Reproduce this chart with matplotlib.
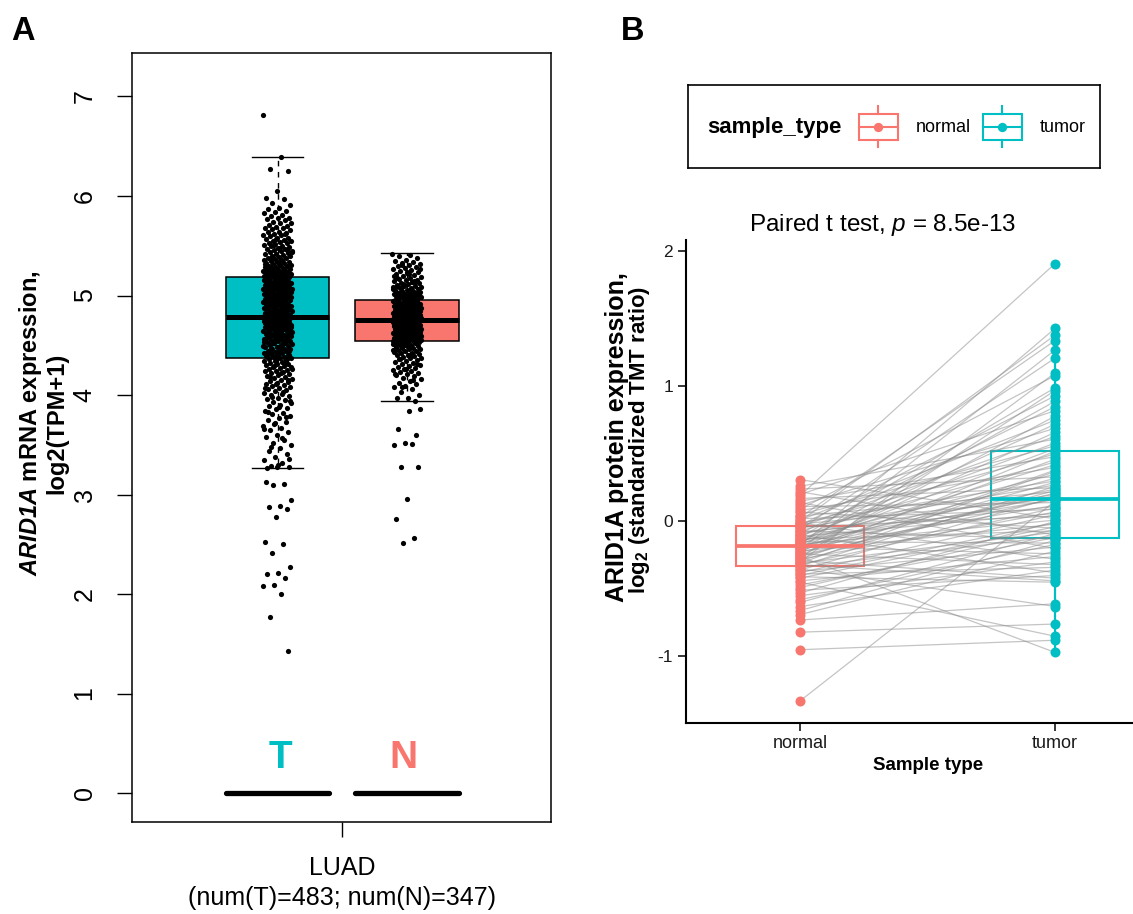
import numpy as np
import matplotlib
matplotlib.use("Agg")
import matplotlib.pyplot as plt
from matplotlib.patches import Rectangle

plt.rcParams['font.family'] = ['Liberation Sans', 'DejaVu Sans']
plt.rcParams['mathtext.fontset'] = 'custom'
plt.rcParams['mathtext.rm'] = 'Liberation Sans'
plt.rcParams['mathtext.it'] = 'Liberation Sans:italic'
plt.rcParams['mathtext.bf'] = 'Liberation Sans:bold'
plt.rcParams['mathtext.bfit'] = 'Liberation Sans:italic:bold'

W, H = 1133, 914
TEAL = '#00BFC4'
SALMON = '#F8766D'

# === PANEL A DATA (LUAD, log2(TPM+1)) ===
a_groups = ['T', 'N']
a_q1 = [4.37, 4.54]
a_med = [4.78, 4.75]
a_q3 = [5.19, 4.95]
a_whislo = [3.27, 3.94]
a_whishi = [6.39, 5.43]
a_zero = [0.0, 0.0]

tumor_mrna = [
    6.81, 6.39, 6.27, 6.25, 6.05, 5.98, 5.97, 5.93,
    5.91, 5.88, 5.87, 5.85, 5.84, 5.83, 5.81, 5.8, 5.78, 5.78, 5.77, 5.76, 5.74, 5.73, 5.73, 5.71, 5.7, 5.69, 5.68, 5.68,
    5.67, 5.66, 5.64, 5.64, 5.63, 5.62, 5.61, 5.61, 5.6, 5.58, 5.58, 5.57, 5.56, 5.55, 5.55, 5.54, 5.53, 5.53, 5.52, 5.51,
    5.5, 5.5, 5.49, 5.48, 5.47, 5.47, 5.46, 5.45, 5.45, 5.44, 5.43, 5.42, 5.42, 5.41, 5.4, 5.4, 5.39, 5.38, 5.38, 5.37,
    5.36, 5.36, 5.35, 5.34, 5.34, 5.33, 5.33, 5.32, 5.31, 5.31, 5.3, 5.3, 5.29, 5.29, 5.28, 5.28, 5.27, 5.27, 5.26, 5.26,
    5.25, 5.25, 5.24, 5.24, 5.24, 5.23, 5.23, 5.22, 5.22, 5.22, 5.21, 5.21, 5.2, 5.2, 5.2, 5.19, 5.19, 5.19, 5.18, 5.18,
    5.62, 5.51, 5.44, 5.35, 5.28, 5.46, 5.57, 5.32, 5.25, 5.39, 5.21, 5.48, 5.3,
    5.17, 5.17, 5.16, 5.16, 5.15, 5.15, 5.15, 5.14, 5.14, 5.13, 5.13, 5.12, 5.12, 5.12, 5.11, 5.11, 5.1, 5.1, 5.09, 5.09,
    5.09, 5.08, 5.08, 5.07, 5.07, 5.06, 5.06, 5.06, 5.05, 5.05, 5.04, 5.04, 5.03, 5.03, 5.03, 5.02, 5.02, 5.01, 5.01, 5.0,
    5.0, 5.0, 4.99, 4.99, 4.98, 4.98, 4.97, 4.97, 4.97, 4.96, 4.96, 4.95, 4.95, 4.94, 4.94, 4.94, 4.93, 4.93, 4.92, 4.92,
    4.91, 4.91, 4.91, 4.9, 4.9, 4.89, 4.89, 4.88, 4.88, 4.88, 4.87, 4.87, 4.86, 4.86, 4.85, 4.85, 4.85, 4.84, 4.84, 4.83,
    4.83, 4.82, 4.82, 4.82, 4.81, 4.81, 4.8, 4.8, 4.8, 4.79, 4.79, 4.79, 5.13, 5.08, 5.02, 4.96, 4.9, 4.84, 5.11, 5.04,
    4.98, 4.93, 4.87, 4.81, 5.16, 5.1, 5.05, 5.0, 4.95, 4.89, 4.83, 5.14, 5.07, 5.01, 4.92, 4.86, 4.8,
    4.78, 4.78, 4.77, 4.77, 4.76, 4.76, 4.75, 4.75, 4.74, 4.74, 4.73, 4.73, 4.72, 4.72, 4.71, 4.71, 4.7, 4.7, 4.69, 4.69,
    4.68, 4.68, 4.67, 4.67, 4.66, 4.66, 4.65, 4.65, 4.64, 4.64, 4.63, 4.63, 4.62, 4.61, 4.61, 4.6, 4.6, 4.59, 4.58, 4.58,
    4.57, 4.57, 4.56, 4.55, 4.55, 4.54, 4.54, 4.53, 4.52, 4.52, 4.51, 4.5, 4.5, 4.49, 4.48, 4.48, 4.47, 4.46, 4.46, 4.45,
    4.44, 4.44, 4.43, 4.42, 4.42, 4.41, 4.4, 4.4, 4.39, 4.38, 4.38, 4.37, 4.37, 4.36, 4.36, 4.76, 4.73, 4.7, 4.67, 4.64,
    4.61, 4.58, 4.55, 4.52, 4.49, 4.46, 4.43, 4.4, 4.37, 4.77, 4.74, 4.71, 4.68, 4.65, 4.62, 4.59, 4.56, 4.53, 4.5, 4.47,
    4.44, 4.41, 4.38, 4.75, 4.69, 4.63, 4.57, 4.51, 4.45, 4.39, 4.72, 4.66, 4.6, 4.54, 4.48, 4.42,
    4.35, 4.34, 4.34, 4.33, 4.32, 4.31, 4.31, 4.3, 4.29, 4.28, 4.28, 4.27, 4.26, 4.25, 4.24, 4.24, 4.23, 4.22, 4.21, 4.2,
    4.19, 4.18, 4.17, 4.16, 4.15, 4.14, 4.13, 4.12, 4.11, 4.1, 4.09, 4.08, 4.07, 4.06, 4.05, 4.04, 4.02, 4.01, 4.0, 3.99,
    3.97, 3.96, 3.95, 3.93, 3.92, 3.9, 3.89, 3.87, 3.86, 3.84, 3.82, 3.81, 3.79, 3.77, 3.75, 3.73, 3.71, 3.69, 3.67, 3.65,
    3.63, 3.6, 3.58, 3.55, 3.52, 3.5, 3.47, 3.44, 3.41, 3.38, 3.35, 3.32, 3.29, 3.28, 3.3, 3.27, 4.33, 4.29, 4.26, 4.22,
    4.18, 4.15, 4.11, 4.07, 4.03, 3.98, 3.94, 3.88, 3.83, 3.78, 3.72, 3.66, 3.57, 3.48, 3.36, 3.28,
    3.13, 3.11, 3.1, 2.94, 2.88, 2.87, 2.85, 2.77, 2.52, 2.5, 2.41, 2.27, 2.21, 2.2, 2.16, 2.09, 2.08, 2.0, 1.77, 1.43,
]

normal_mrna = [
    5.42, 5.41, 5.4, 5.38, 5.36, 5.35, 5.34, 5.33, 5.32, 5.31, 5.3, 5.29, 5.28, 5.27, 5.26, 5.25, 5.24, 5.23, 5.22, 5.21,
    5.2, 5.19, 5.18, 5.17, 5.16, 5.16, 5.15, 5.14, 5.13, 5.13, 5.12, 5.11, 5.1, 5.1, 5.09, 5.08, 5.08, 5.07, 5.06, 5.06,
    5.05, 5.05, 5.04, 5.04, 5.03, 5.03, 5.02, 5.02, 5.01, 5.01, 5.0, 5.0, 4.99, 4.99, 4.98, 4.98, 4.97, 4.97, 4.96, 4.96,
    4.95, 4.95, 5.31, 5.27, 5.22, 5.18, 5.14, 5.11, 5.07, 5.04, 5.01, 4.98, 5.24, 5.19, 5.15, 5.12, 5.09, 5.06, 5.03, 5.0,
    4.97, 5.2, 5.14, 5.08, 5.02, 4.96, 5.1,
    4.94, 4.94, 4.94, 4.93, 4.93, 4.93, 4.92, 4.92, 4.92, 4.91, 4.91, 4.91, 4.9, 4.9, 4.9, 4.89, 4.89, 4.89, 4.88, 4.88,
    4.88, 4.87, 4.87, 4.87, 4.86, 4.86, 4.86, 4.85, 4.85, 4.85, 4.84, 4.84, 4.84, 4.83, 4.83, 4.83, 4.82, 4.82, 4.82, 4.81,
    4.81, 4.81, 4.8, 4.8, 4.8, 4.79, 4.79, 4.79, 4.78, 4.78, 4.78, 4.77, 4.77, 4.77, 4.76, 4.76, 4.76, 4.75, 4.75, 4.75,
    4.945, 4.925, 4.905, 4.885, 4.865, 4.845, 4.825, 4.805, 4.785, 4.765, 4.755, 4.915, 4.895, 4.875, 4.855, 4.835,
    4.815, 4.795, 4.775, 4.94, 4.9, 4.86, 4.82, 4.78, 4.92, 4.88, 4.84,
    4.74, 4.74, 4.74, 4.73, 4.73, 4.73, 4.72, 4.72, 4.72, 4.71, 4.71, 4.71, 4.7, 4.7, 4.7, 4.69, 4.69, 4.69, 4.68, 4.68,
    4.68, 4.67, 4.67, 4.67, 4.66, 4.66, 4.66, 4.65, 4.65, 4.65, 4.64, 4.64, 4.64, 4.63, 4.63, 4.63, 4.62, 4.62, 4.62, 4.61,
    4.61, 4.61, 4.6, 4.6, 4.6, 4.59, 4.59, 4.59, 4.58, 4.58, 4.58, 4.57, 4.57, 4.57, 4.56, 4.56, 4.56, 4.55, 4.55, 4.54,
    4.745, 4.725, 4.705, 4.685, 4.665, 4.645, 4.625, 4.605, 4.585, 4.565, 4.545, 4.735, 4.715, 4.695, 4.675, 4.655,
    4.635, 4.615, 4.595, 4.575, 4.555, 4.73, 4.69, 4.65, 4.61, 4.57, 4.55,
    4.54, 4.53, 4.53, 4.52, 4.52, 4.51, 4.51, 4.5, 4.5, 4.49, 4.49, 4.48, 4.47, 4.47, 4.46, 4.46, 4.45, 4.44, 4.44, 4.43,
    4.42, 4.42, 4.41, 4.4, 4.4, 4.39, 4.38, 4.37, 4.37, 4.36, 4.35, 4.34, 4.33, 4.32, 4.31, 4.3, 4.29, 4.28, 4.27, 4.26,
    4.25, 4.24, 4.23, 4.22, 4.21, 4.2, 4.19, 4.17, 4.16, 4.14, 4.12, 4.11, 4.09, 4.08, 4.06, 4.03, 4.0, 3.97, 3.97, 3.94,
    4.5, 4.45, 4.41, 4.36, 4.31, 4.26, 4.21, 4.15, 4.08,
    3.86, 3.84, 3.66, 3.6, 3.52, 3.5, 3.51, 3.28, 3.28, 2.95, 2.75, 2.56, 2.51,
]

# === PANEL B DATA (paired protein expression) ===
b_groups = ['normal', 'tumor']
b_q1 = [-0.33, -0.12]
b_med = [-0.185, 0.17]
b_q3 = [-0.03, 0.52]
b_whislo = [-0.73, -0.97]
b_whishi = [0.31, 1.43]

protein_normal = [
    0.31, 0.26, 0.24, 0.22, 0.2, 0.19, 0.17, 0.15, 0.14, 0.12, 0.11, 0.09, 0.08, 0.07, 0.05, 0.04, 0.03, 0.02, 0.01, 0.0,
    -0.01, -0.01, -0.02, -0.02, -0.03, -0.04, -0.04, -0.05, -0.06, -0.07, -0.07, -0.08, -0.09, -0.09, -0.1, -0.11, -0.11,
    -0.12, -0.13, -0.13, -0.14, -0.14, -0.15, -0.15, -0.16, -0.16, -0.17, -0.17, -0.18, -0.18, -0.19, -0.19, -0.2, -0.2,
    -0.21, -0.22, -0.22, -0.23, -0.23, -0.24, -0.25, -0.25, -0.26, -0.26, -0.27, -0.28, -0.28, -0.29, -0.29, -0.3, -0.31,
    -0.31, -0.32, -0.32, -0.33, -0.34, -0.35, -0.36, -0.37, -0.38, -0.39, -0.4, -0.41, -0.42, -0.44, -0.45, -0.47, -0.49,
    -0.51, -0.53, -0.55, -0.58, -0.6, -0.63, -0.66, -0.69, -0.73, -0.82, -0.95, -1.33,
]
protein_tumor = [
    0.02, 0.61, 0.33, -0.1, 0.82, 1.91, 0.25, 0.48, -0.2, 0.69, 0.14, 1.08, 0.4, -0.05, 0.56, 0.22, 1.34, 0.09, 0.75, 1.38,
    0.3, -0.28, 0.5, 0.17, 0.93, 0.04, 0.63, 0.27, 1.21, -0.13, 0.44, 0.11, 0.85, 0.2, -0.38, 0.58, 0.06, 0.99, 0.35,
    -0.07, 0.72, 0.16, 0.42, -0.16, 0.89, 0.24, 0.01, 0.54, 1.43, 0.19, 0.32, -0.24, 0.66, 0.12, 1.27, 0.46, -0.02, 0.29,
    0.78, -0.32, 0.17, 0.52, -0.97, 0.21, 0.97, 0.07, 0.38, -0.42, 0.23, 1.1, -0.08, 0.37, 0.1, -0.44, 0.26, -0.11, -0.63,
    0.18, -0.19, 0.05, -0.34, -0.01, -0.45, -0.04, -0.26, -0.85, -0.12, -0.06, -0.4, 0.0, -0.3, -0.17, -0.09, -0.36,
    -0.14, -0.22, -0.61, -0.76, -0.88, 0.15,
]


def fx(x):
    return x / W


def fy(y):
    return 1 - y / H


def jitter(n, half_width):
    # deterministic spread (golden ratio sequence) for the strip points
    return ((np.arange(n) * 0.6180339887) % 1.0 - 0.5) * 2 * half_width


fig = plt.figure(figsize=(W / 100, H / 100), dpi=100)

# === PANEL A ===
axA = fig.add_axes([fx(132), fy(822), (551 - 132) / W, (822 - 53) / H])
axA.set_xlim(-0.1236, 3.112)
axA.set_ylim(-0.291, 7.437)

statsA = [dict(med=a_med[i], q1=a_q1[i], q3=a_q3[i], whislo=a_whislo[i], whishi=a_whishi[i], fliers=[])
          for i in range(2)]
bpA = axA.bxp(statsA, positions=[1, 2], widths=0.8, patch_artist=True, showfliers=False,
              capwidths=0.4, manage_ticks=False,
              boxprops=dict(edgecolor='black', linewidth=1.1),
              medianprops=dict(color='black', linewidth=3.6, solid_capstyle='butt'),
              whiskerprops=dict(color='black', linewidth=1.0, linestyle=(0, (4, 4))),
              capprops=dict(color='black', linewidth=1.0))
for patch, col in zip(bpA['boxes'], [TEAL, SALMON]):
    patch.set_facecolor(col)
    patch.set_zorder(1)

for pos, vals in zip([1, 2], [tumor_mrna, normal_mrna]):
    vals = np.array(vals)
    axA.scatter(pos + jitter(len(vals), 0.112), vals, s=14, c='black', linewidths=0, zorder=3)

for pos, z in zip([1, 2], a_zero):
    axA.plot([pos - 0.4, pos + 0.4], [z, z], color='black', lw=3.8, solid_capstyle='round', zorder=3)

axA.text(1.025, 0.357, 'T', color=TEAL, fontsize=28, fontweight='bold', ha='center', va='center')
axA.text(1.975, 0.357, 'N', color=SALMON, fontsize=28, fontweight='bold', ha='center', va='center')

axA.set_yticks(range(8))
axA.set_yticklabels([str(v) for v in range(8)], rotation=90, va='center', fontsize=18)
axA.set_xticks([1.5])
axA.set_xticklabels([''])
axA.tick_params(axis='both', length=11, width=1.0)
axA.tick_params(axis='y', pad=14.5)
for sp in axA.spines.values():
    sp.set_linewidth(1.1)

fig.text(fx(342), fy(868), 'LUAD', ha='center', va='center', fontsize=18)
fig.text(fx(342), fy(898), '(num(T)=483; num(N)=347)', ha='center', va='center', fontsize=18)
fig.text(fx(31), fy(423), r'$\mathbfit{ARID1A}$ mRNA expression,', rotation=90, ha='center', va='center',
         fontsize=17, fontweight='bold')
fig.text(fx(57), fy(423), 'log2(TPM+1)', rotation=90, ha='center', va='center', fontsize=17, fontweight='bold')
fig.text(fx(23), fy(32), 'A', ha='center', va='center', fontsize=23.5, fontweight='bold')

# === PANEL B ===
axB = fig.add_axes([fx(685.7), fy(723), (1170 - 685.7) / W, (723 - 240) / H])
axB.set_xlim(0.552, 2.451)
axB.set_ylim(-1.493, 2.085)

statsB = [dict(med=b_med[i], q1=b_q1[i], q3=b_q3[i], whislo=b_whislo[i], whishi=b_whishi[i], fliers=[])
          for i in range(2)]
bpB = axB.bxp(statsB, positions=[1, 2], widths=0.5, patch_artist=True, showfliers=False,
              showcaps=False, manage_ticks=False,
              boxprops=dict(linewidth=1.5), medianprops=dict(linewidth=2.7, solid_capstyle='butt'),
              whiskerprops=dict(linewidth=1.6))
for i, col in enumerate([SALMON, TEAL]):
    bpB['boxes'][i].set_facecolor('none')
    bpB['boxes'][i].set_edgecolor(col)
    bpB['boxes'][i].set_zorder(1)
    bpB['medians'][i].set_color(col)
    for w in bpB['whiskers'][2 * i:2 * i + 2]:
        w.set_color(col)

pn = np.array(protein_normal)
pt = np.array(protein_tumor)
axB.plot(np.vstack([np.ones(len(pn)), 2 * np.ones(len(pt))]), np.vstack([pn, pt]),
         color='#8a8a8a', alpha=0.5, lw=0.9, zorder=2)
axB.scatter(np.ones(len(pn)), pn, s=52, color=SALMON, linewidths=0, zorder=3)
axB.scatter(2 * np.ones(len(pt)), pt, s=52, color=TEAL, linewidths=0, zorder=3)

axB.spines['top'].set_visible(False)
axB.spines['right'].set_visible(False)
axB.spines['left'].set_linewidth(1.5)
axB.spines['bottom'].set_linewidth(1.5)
axB.set_yticks([-1, 0, 1, 2])
axB.set_yticklabels(['-1', '0', '1', '2'], fontsize=12.5, color='#1a1a1a')
axB.set_xticks([1, 2])
axB.set_xticklabels(b_groups, fontsize=13, color='#1a1a1a')
axB.tick_params(axis='both', length=6, width=1.1, pad=3)

fig.text(fx(928), fy(765), 'Sample type', ha='center', va='center', fontsize=13.5, fontweight='bold')
fig.text(fx(617), fy(437), 'ARID1A protein expression,', rotation=90, ha='center', va='center',
         fontsize=18, fontweight='bold')
fig.text(fx(640), fy(440), r'log$_{\mathbf{2}}$ (standardized TMT ratio)', rotation=90, ha='center',
         va='center', fontsize=16, fontweight='bold')
fig.text(fx(883), fy(225), r'Paired t test, $\mathit{p}$ = 8.5e-13', ha='center', va='center', fontsize=17.5)
fig.text(fx(633), fy(32), 'B', ha='center', va='center', fontsize=23.5, fontweight='bold')

# === LEGEND (drawn by hand) ===
L0, L1 = 688, 1100
lax = fig.add_axes([fx(L0), fy(168), (L1 - L0) / W, (168 - 85) / H])
lax.set_xlim(L0, L1)
lax.set_ylim(168, 85)
lax.set_xticks([])
lax.set_yticks([])
for sp in lax.spines.values():
    sp.set_linewidth(1.2)
lax.text(707, 127, 'sample_type', ha='left', va='center', fontsize=16, fontweight='bold')
for x0, col, lab in [(859, SALMON, 'normal'), (983, TEAL, 'tumor')]:
    cx = x0 + 19.5
    lax.add_patch(Rectangle((x0, 114), 39, 26, fill=False, edgecolor=col, lw=1.5))
    lax.plot([cx, cx], [106, 114], color=col, lw=1.5)
    lax.plot([cx, cx], [140, 147], color=col, lw=1.5)
    lax.plot([x0, x0 + 39], [127, 127], color=col, lw=1.5)
    lax.scatter([cx], [127], s=45, color=col, linewidths=0, zorder=3)
    lax.text(x0 + 57, 127, lab, ha='left', va='center', fontsize=13)

fig.savefig('out.png', dpi=100)
